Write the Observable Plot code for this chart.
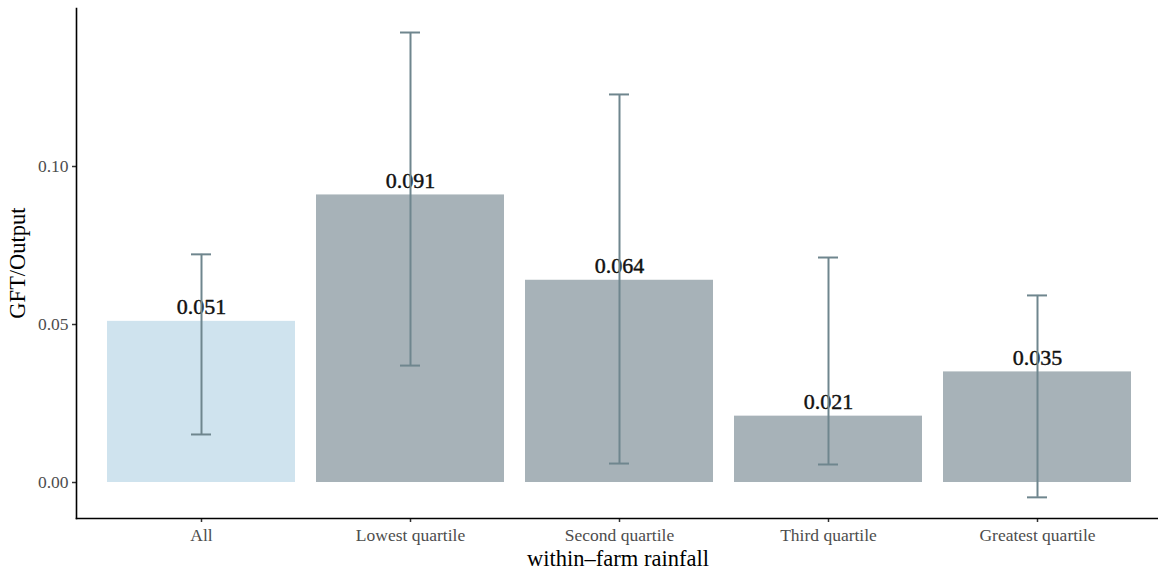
<!DOCTYPE html>
<html>
<head>
<meta charset="utf-8">
<script src="https://cdn.jsdelivr.net/npm/d3@7"></script>
<script src="https://cdn.jsdelivr.net/npm/@observablehq/plot@0.6"></script>
<style>
  html, body { margin: 0; padding: 0; background: #fff; }
  #chart { position: relative; width: 1158px; height: 573px; }
  .ytitle { position: absolute; left: 18px; top: 263px; transform: translate(-50%, -50%) rotate(-90deg);
    font-family: "Liberation Serif", serif; font-size: 22.5px; color: #000; white-space: nowrap; }
  .xtitle { position: absolute; left: 618px; top: 548px; transform: translateX(-50%);
    font-family: "Liberation Serif", serif; font-size: 22.5px; color: #000; white-space: nowrap; line-height: 1; }
</style>
</head>
<body>
<div id="chart"></div>
<script>
const categories = ["All", "Lowest quartile", "Second quartile", "Third quartile", "Greatest quartile"];
const values = [0.051, 0.091, 0.064, 0.021, 0.035];
const lower = [0.0152, 0.0370, 0.0060, 0.0057, -0.0047];
const upper = [0.0722, 0.1424, 0.1228, 0.0712, 0.0592];
const yTicks = [0, 0.05, 0.10];
const yTickLabels = ["0.00", "0.05", "0.10"];
const fills = ["#cfe3ee", "#a7b2b8", "#a7b2b8", "#a7b2b8", "#a7b2b8"];

const data = categories.map((c, i) => ({cat: c, value: values[i], lo: lower[i], hi: upper[i], fill: fills[i]}));

const font = "Liberation Serif, serif";
const plot = Plot.plot({
  width: 1158,
  height: 573,
  marginLeft: 76,
  marginRight: 0,
  marginTop: 8,
  marginBottom: 55,
  style: {fontFamily: font, background: "#fff", overflow: "visible"},
  x: {domain: categories, range: [76, 1162], paddingInner: 0.1, paddingOuter: 0.148, label: null},
  y: {domain: [-0.01139, 0.15], label: null},
  marks: [
    Plot.barY(data, {x: "cat", y: "value", fill: "fill"}),
    Plot.text(data, {x: "cat", y: "value", text: d => d.value.toFixed(3), lineAnchor: "bottom", dy: -7, fontSize: 22, fill: "#111", stroke: "#111", strokeWidth: 0.45}),
    Plot.ruleX(data, {x: "cat", y1: "lo", y2: "hi", stroke: "#6f868e", strokeWidth: 2}),
    Plot.tickY(data, {x: "cat", y: "hi", stroke: "#6f868e", strokeWidth: 2, insetLeft: 84, insetRight: 84}),
    Plot.tickY(data, {x: "cat", y: "lo", stroke: "#6f868e", strokeWidth: 2, insetLeft: 84, insetRight: 84}),
    Plot.axisY({ticks: yTicks, tickFormat: (d) => yTickLabels[yTicks.indexOf(d)], tickSize: 4, tickPadding: 4, fontSize: 17.5, color: "#4d4d4d", stroke: "#333", strokeWidth: 1.5, label: null}),
    Plot.axisX({tickSize: 4, tickPadding: 6, fontSize: 17.5, color: "#4d4d4d", stroke: "#333", strokeWidth: 1.5, label: null}),
    Plot.frame({anchor: "left", stroke: "#000", strokeWidth: 1.6}),
    Plot.frame({anchor: "bottom", stroke: "#000", strokeWidth: 1.6})
  ]
});
const chart = document.getElementById("chart");
chart.appendChild(plot);
const yt = document.createElement("div"); yt.className = "ytitle"; yt.textContent = "GFT/Output"; chart.appendChild(yt);
const xt = document.createElement("div"); xt.className = "xtitle"; xt.textContent = "within–farm rainfall"; chart.appendChild(xt);
</script>
</body>
</html>
